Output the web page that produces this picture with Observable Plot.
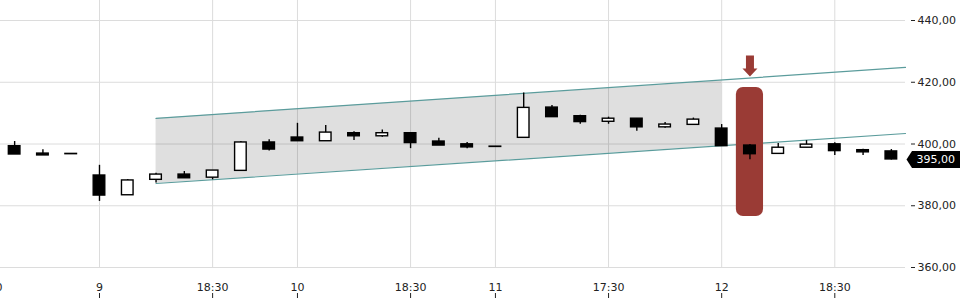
<!DOCTYPE html>
<html>
<head>
<meta charset="utf-8">
<script src="https://cdn.jsdelivr.net/npm/d3@7"></script>
<script src="https://cdn.jsdelivr.net/npm/@observablehq/plot@0.6"></script>
<style>
  html, body { margin: 0; padding: 0; background: #fff; }
</style>
</head>
<body>
<div id="chart"></div>
<script>
// ---- candle data (index = candle slot) ----
const opens  = [399.3, 396.9, 396.8, 389.8, 383.4, 388.4, 390.1, 389.1, 391.3, 400.5,
                402.1, 400.9, 403.5, 402.5, 403.5, 400.8, 399.9, 399.15, 402.0, 411.8,
                409.0, 407.2, 408.2, 405.4, 406.2, 405.0, 399.5, 396.8, 398.8, 399.9,
                398.0, 397.6];
const highs  = [400.8, 398.1, 396.8, 393.1, 388.5, 390.5, 391.1, 391.4, 400.8, 401.4,
                406.7, 406.0, 404.0, 404.5, 403.5, 401.9, 400.5, 399.15, 416.5, 412.5,
                409.3, 408.7, 408.2, 407.0, 408.4, 406.3, 399.8, 400.2, 401.1, 400.4,
                398.3, 398.2];
const lows   = [396.6, 396.3, 396.7, 381.4, 383.4, 387.4, 388.9, 388.4, 391.3, 397.7,
                400.9, 400.9, 401.1, 402.2, 398.5, 399.5, 398.5, 399.05, 402.0, 408.7,
                406.4, 406.4, 404.1, 405.1, 406.2, 399.3, 394.9, 396.8, 398.8, 396.3,
                396.3, 394.8];
const closes = [396.6, 396.3, 396.7, 383.3, 388.2, 390.1, 388.9, 391.4, 400.5, 398.2,
                400.9, 403.7, 402.5, 403.5, 400.3, 399.5, 398.9, 399.05, 411.7, 408.7,
                407.1, 408.2, 405.4, 406.3, 407.9, 399.3, 396.7, 398.8, 399.8, 397.7,
                397.3, 395.0];

// ---- axes ----
const xDomain = [-0.5, 31.5];
const xTickPos    = [-0.55, 3, 7, 10, 14, 17, 21, 25, 29];
const xTickLabels = ["0", "9", "18:30", "10", "18:30", "11", "17:30", "12", "18:30"];
const yDomain = [351.58, 446.48];
const yTicks  = [360, 380, 400, 420, 440];

// ---- trend channel ----
const channelX     = [5, 31.5];
const channelUpper = [408.3, 424.8];
const channelLower = [387.2, 403.4];
const shadeX     = [5, 25];
const shadeUpper = [408.3, 420.5];
const shadeLower = [387.2, 399.4];

// ---- breakout highlight ----
const signalIdx  = [26];
const signalLow  = [376.5];
const signalHigh = [418.3];
const arrowTop   = [428.7];
const lastPrice  = [395.0];

const red = "#9a3b35";
const teal = "#5b9c9c";

const candles = opens.map((o, i) => ({i, open: o, high: highs[i], low: lows[i], close: closes[i]}));
const channel = channelX.map((x, k) => ({x, hi: channelUpper[k], lo: channelLower[k]}));
const shade = shadeX.map((x, k) => ({x, hi: shadeUpper[k], lo: shadeLower[k]}));
const signal = signalIdx.map((i, k) => ({i, lo: signalLow[k], hi: signalHigh[k], top: arrowTop[k]}));

const half = 0.205;
const fmt = d => d.toFixed(2).replace(".", ",");

const blockArrow = {
  draw(ctx, l) {
    const h = 8;
    ctx.moveTo(-4, 0); ctx.lineTo(4, 0); ctx.lineTo(4, -(l - h));
    ctx.lineTo(7.5, -(l - h)); ctx.lineTo(0, -l); ctx.lineTo(-7.5, -(l - h));
    ctx.lineTo(-4, -(l - h)); ctx.closePath();
  }
};
const priceTag = {
  draw(ctx) {
    ctx.moveTo(1, 0); ctx.lineTo(6.5, -8.5); ctx.lineTo(56, -8.5);
    ctx.lineTo(56, 8.5); ctx.lineTo(6.5, 8.5); ctx.closePath();
  }
};

const chart = Plot.plot({
  width: 960,
  height: 300,
  marginLeft: 0,
  marginRight: 55,
  marginTop: 0,
  marginBottom: 7,
  x: {domain: xDomain, axis: null},
  y: {domain: yDomain, axis: null},
  style: {fontFamily: "DejaVu Sans", fontSize: "11px", color: "#222", background: "#fff", overflow: "visible"},
  marks: [
    Plot.gridY(yTicks, {stroke: "#dcdcdc", strokeOpacity: 1, strokeWidth: 1}),
    Plot.ruleX(xTickPos.slice(1), {y1: yTicks[0], y2: yDomain[1], stroke: "#dcdcdc", strokeWidth: 1}),
    Plot.areaY(shade, {x: "x", y1: "lo", y2: "hi", fill: "#000", fillOpacity: 0.125}),
    Plot.line(channel, {x: "x", y: "hi", stroke: teal, strokeWidth: 1.2}),
    Plot.line(channel, {x: "x", y: "lo", stroke: teal, strokeWidth: 1.2}),
    Plot.rect(signal, {x1: d => d.i - 0.48, x2: d => d.i + 0.48, y1: "lo", y2: "hi", fill: red, rx: 7}),
    Plot.vector(signal, {x: "i", y: "top", length: 21, rotate: 180, anchor: "start", shape: blockArrow, fill: red, stroke: "none"}),
    Plot.ruleX(candles, {x: "i", y1: "low", y2: "high", stroke: "#000", strokeWidth: 1.4}),
    Plot.rect(candles, {filter: d => d.close < d.open, x1: d => d.i - half, x2: d => d.i + half, y1: "open", y2: "close", fill: "#000", stroke: "#000", strokeWidth: 1.4}),
    Plot.rect(candles, {filter: d => d.close >= d.open, x1: d => d.i - half, x2: d => d.i + half, y1: "open", y2: "close", fill: "#fff", stroke: "#000", strokeWidth: 1.4}),
    Plot.axisY(yTicks, {anchor: "right", tickSize: 4, tickPadding: 3, dx: 5, tickFormat: fmt, stroke: "#222", fill: "#222"}),
    Plot.axisX(xTickPos, {anchor: "bottom", tickSize: 5, tickPadding: -15, tickFormat: d => xTickLabels[xTickPos.indexOf(d)], stroke: "#222", fill: "#222"}),
    Plot.vector(lastPrice, {x: () => xDomain[1], y: d => d, length: 1, anchor: "start", shape: priceTag, fill: "#000", stroke: "none"}),
    Plot.text(lastPrice, {x: () => xDomain[1], y: d => d, text: fmt, dx: 11, textAnchor: "start", fill: "#fff", fontSize: 11})
  ]
});
document.getElementById("chart").appendChild(chart);
</script>
</body>
</html>
